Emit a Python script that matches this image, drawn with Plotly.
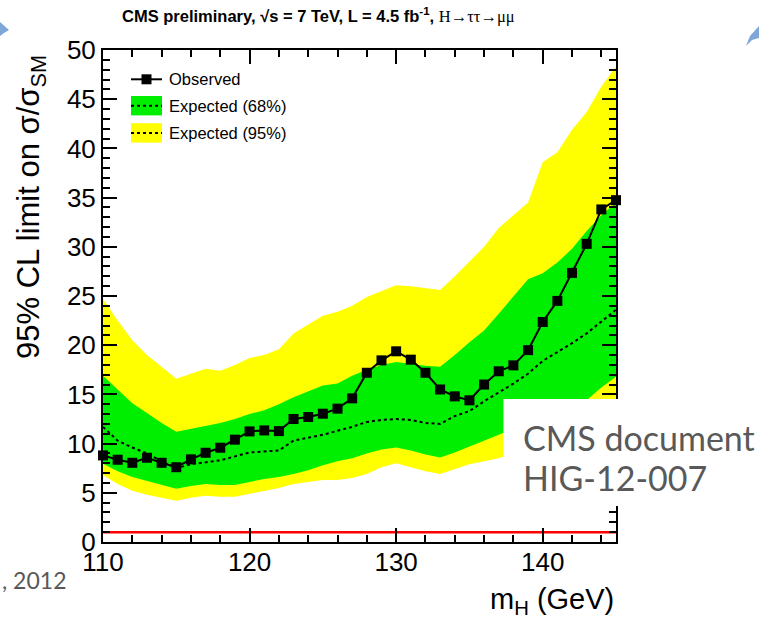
import plotly.graph_objects as go

# Higgs mass points (GeV)
mass = list(range(110, 146))

# Observed 95% CL upper limit on sigma/sigma_SM
observed = [8.8, 8.36, 8.05, 8.56, 8.05, 7.6, 8.4, 9.07, 9.58, 10.4,
            11.24, 11.34, 11.27, 12.5, 12.7, 13.04, 13.55, 14.6, 17.2, 18.46,
            19.38, 18.53, 17.2, 15.5, 14.8, 14.4, 16.0, 17.35, 17.95, 19.5,
            22.36, 24.5, 27.35, 30.3, 33.8, 34.74]

# Expected limit (median) and bands
expected = [11.7, 10.3, 9.6, 9.0, 8.2, 7.5, 7.9, 8.1, 8.3, 8.7,
            9.1, 9.2, 9.3, 10.3, 10.6, 10.9, 11.3, 11.7, 12.2, 12.4,
            12.5, 12.4, 12.1, 12.0, 12.8, 13.3, 14.3, 15.2, 16.1, 17.1,
            18.4, 19.3, 20.2, 21.2, 22.4, 23.6]
band68_hi = [16.9, 15.5, 14.1, 13.1, 12.1, 11.2, 11.5, 11.85, 12.1, 12.5,
             13.0, 13.4, 14.0, 14.7, 15.3, 15.9, 16.1, 16.9, 17.5, 18.0,
             18.3, 18.1, 17.9, 17.8, 19.0, 20.3, 21.5, 23.2, 25.0, 26.7,
             27.3, 28.4, 29.8, 31.6, 33.2, 34.5]
band68_lo = [7.95, 7.2, 6.6, 6.2, 5.8, 5.4, 5.7, 5.9, 5.8, 5.8,
             6.1, 6.4, 6.6, 6.9, 7.3, 7.8, 8.2, 8.5, 9.0, 9.4,
             9.6, 9.3, 8.9, 8.6, 9.1, 9.7, 10.3, 10.9, 11.5, 12.1,
             12.7, 13.3, 13.9, 14.4, 15.7, 16.8]
band95_hi = [24.7, 22.5, 20.5, 19.0, 17.8, 16.6, 17.1, 17.6, 17.4, 18.0,
             18.7, 19.0, 19.6, 21.2, 22.1, 23.0, 23.4, 24.0, 24.9, 25.5,
             26.1, 26.0, 25.8, 25.6, 27.0, 28.5, 30.0, 31.9, 33.2, 34.5,
             38.6, 39.6, 41.9, 43.7, 46.3, 48.3]
band95_lo = [6.8, 5.9, 5.2, 4.8, 4.5, 4.2, 4.5, 4.7, 4.6, 4.6,
             4.9, 5.2, 5.5, 5.9, 6.1, 6.3, 6.3, 6.5, 6.9, 7.6,
             8.0, 7.6, 7.2, 6.9, 7.4, 7.9, 8.2, 8.5, 9.0, 9.6,
             10.2, 10.9, 11.6, 12.3, 13.0, 13.8]

sm_level = [1, 1]
sm_mass = [110, 145]

x_ticks = [110, 120, 130, 140]
y_ticks = [0, 5, 10, 15, 20, 25, 30, 35, 40, 45, 50]

YELLOW = "#ffff00"
GREEN = "#00ee00"
GREY_TEXT = "#595959"
AXIS_FONT = "Liberation Sans, Arial, sans-serif"
SANS = "Liberation Sans, Arial, sans-serif"
SLIDE_FONT = "Lato, Open Sans, sans-serif"

# page geometry (pixels)
W, H = 759, 618
L, R, T, B = 103, 143, 50, 76
PW, PH = W - L - R, H - T - B


def px(x):
    return (x - L) / PW


def py(y):
    return (H - B - y) / PH


fig = go.Figure()

# 95% band
fig.add_trace(go.Scatter(x=mass, y=band95_lo, mode="lines", line=dict(width=0, color=YELLOW),
                         showlegend=False, hoverinfo="skip"))
fig.add_trace(go.Scatter(x=mass, y=band95_hi, mode="lines", line=dict(width=0, color=YELLOW),
                         fill="tonexty", fillcolor=YELLOW, showlegend=False, hoverinfo="skip"))
# 68% band
fig.add_trace(go.Scatter(x=mass, y=band68_lo, mode="lines", line=dict(width=0, color=GREEN),
                         showlegend=False, hoverinfo="skip"))
fig.add_trace(go.Scatter(x=mass, y=band68_hi, mode="lines", line=dict(width=0, color=GREEN),
                         fill="tonexty", fillcolor=GREEN, showlegend=False, hoverinfo="skip"))
# expected median
fig.add_trace(go.Scatter(x=mass, y=expected, mode="lines",
                         line=dict(color="black", width=2, dash="3px,3px"), showlegend=False))
# observed
fig.add_trace(go.Scatter(x=mass, y=observed, mode="lines+markers",
                         line=dict(color="black", width=2),
                         marker=dict(symbol="square", size=10, color="black"),
                         showlegend=False, cliponaxis=False))
# SM reference
fig.add_trace(go.Scatter(x=sm_mass, y=sm_level, mode="lines",
                         line=dict(color="#ff0000", width=2.5), showlegend=False))

axis_common = dict(
    showline=True, linewidth=2, linecolor="black", mirror="allticks",
    ticks="inside", ticklen=14, tickwidth=2, tickcolor="black",
    showgrid=False, zeroline=False,
    tickfont=dict(family=AXIS_FONT, size=26, color="black"),
)

fig.update_xaxes(range=[110, 145], tickvals=x_ticks, ticktext=[str(v) for v in x_ticks],
                 ticklabelstandoff=-4,
                 minor=dict(ticks="inside", ticklen=7, tickwidth=2, tickcolor="black", dtick=2,
                            tick0=110, showgrid=False),
                 **axis_common)
fig.update_yaxes(range=[0, 50], tickvals=y_ticks, ticktext=[str(v) for v in y_ticks],
                 minor=dict(ticks="inside", ticklen=7, tickwidth=2, tickcolor="black", dtick=1,
                            tick0=0, showgrid=False),
                 **axis_common)

shapes = []
annotations = []

# legend
leg_x0, leg_x1 = px(131), px(162)
shapes.append(dict(type="line", xref="paper", yref="paper", x0=leg_x0, x1=leg_x1,
                   y0=py(79.3), y1=py(79.3), line=dict(color="black", width=2)))
shapes.append(dict(type="rect", xref="paper", yref="paper", x0=px(141.5), x1=px(151.5),
                   y0=py(84.3), y1=py(74.3), fillcolor="black", line=dict(width=0)))
for yc, col in ((105.7, GREEN), (132.9, YELLOW)):
    shapes.append(dict(type="rect", xref="paper", yref="paper", x0=leg_x0, x1=leg_x1,
                       y0=py(yc + 9.7), y1=py(yc - 9.7), fillcolor=col, line=dict(width=0)))
    shapes.append(dict(type="line", xref="paper", yref="paper", x0=leg_x0, x1=leg_x1,
                       y0=py(yc), y1=py(yc), line=dict(color="black", width=2, dash="3px,3px")))
for yc, txt in ((79.3, "Observed"), (105.7, "Expected (68%)"), (132.9, "Expected (95%)")):
    annotations.append(dict(xref="paper", yref="paper", x=px(167), y=py(yc), text=txt,
                            xanchor="left", yanchor="middle", showarrow=False,
                            font=dict(family=SANS, size=16.5, color="black")))

# document reference box
shapes.append(dict(type="rect", xref="paper", yref="paper", x0=px(503.5), x1=px(W + 2),
                   y0=py(506), y1=py(399), fillcolor="white", line=dict(width=0),
                   layer="above"))
annotations.append(dict(xref="paper", yref="paper", x=px(521), y=py(437), text="CMS document",
                        xanchor="left", yanchor="middle", showarrow=False,
                        font=dict(family=SLIDE_FONT, size=34, color=GREY_TEXT)))
annotations.append(dict(xref="paper", yref="paper", x=px(521), y=py(477), text="HIG-12-007",
                        xanchor="left", yanchor="middle", showarrow=False,
                        font=dict(family=SLIDE_FONT, size=34, color=GREY_TEXT)))
annotations.append(dict(xref="paper", yref="paper", x=px(0), y=py(580), text=", 2012",
                        xanchor="left", yanchor="middle", showarrow=False,
                        font=dict(family=SLIDE_FONT, size=23, color=GREY_TEXT)))

# titles
annotations.append(dict(
    xref="paper", yref="paper", x=px(318), y=py(15), xanchor="center", yanchor="middle",
    showarrow=False,
    text=("<b>CMS preliminary, \u221as = 7 TeV, L = 4.5 fb<sup>-1</sup>, </b>"
          "<span style='font-family:Liberation Serif, Times New Roman, serif'>H\u2192\u03c4\u03c4\u2192\u03bc\u03bc</span>"),
    font=dict(family=SANS, size=16.5, color="black")))
annotations.append(dict(
    xref="paper", yref="paper", x=px(31), y=py(207), xanchor="center", yanchor="middle",
    textangle=-90, showarrow=False,
    text="95% CL limit on \u03c3/\u03c3<sub>SM</sub>",
    font=dict(family=SANS, size=31, color="black")))
annotations.append(dict(
    xref="paper", yref="paper", x=px(616), y=py(601), xanchor="right", yanchor="middle",
    showarrow=False, text="m<sub>H</sub> (GeV)",
    font=dict(family=AXIS_FONT, size=29, color="black")))

# slide decorations at the top corners
shapes.append(dict(type="path", xref="paper", yref="paper",
                   path=f"M {px(0)},{py(22)} L {px(9)},{py(30)} L {px(4)},{py(33)} L {px(0)},{py(36)} Z",
                   fillcolor="#7ea6d8", line=dict(width=0)))
shapes.append(dict(type="path", xref="paper", yref="paper",
                   path=f"M {px(759)},{py(26)} L {px(750)},{py(36)} L {px(746)},{py(46)} L {px(752)},{py(40)} L {px(759)},{py(38)} Z",
                   fillcolor="#7ea6d8", line=dict(width=0)))

fig.update_layout(
    width=W, height=H,
    margin=dict(l=L, r=R, t=T, b=B, pad=0),
    paper_bgcolor="white", plot_bgcolor="white",
    showlegend=False,
    shapes=shapes, annotations=annotations,
)

fig.write_html("out.html")
